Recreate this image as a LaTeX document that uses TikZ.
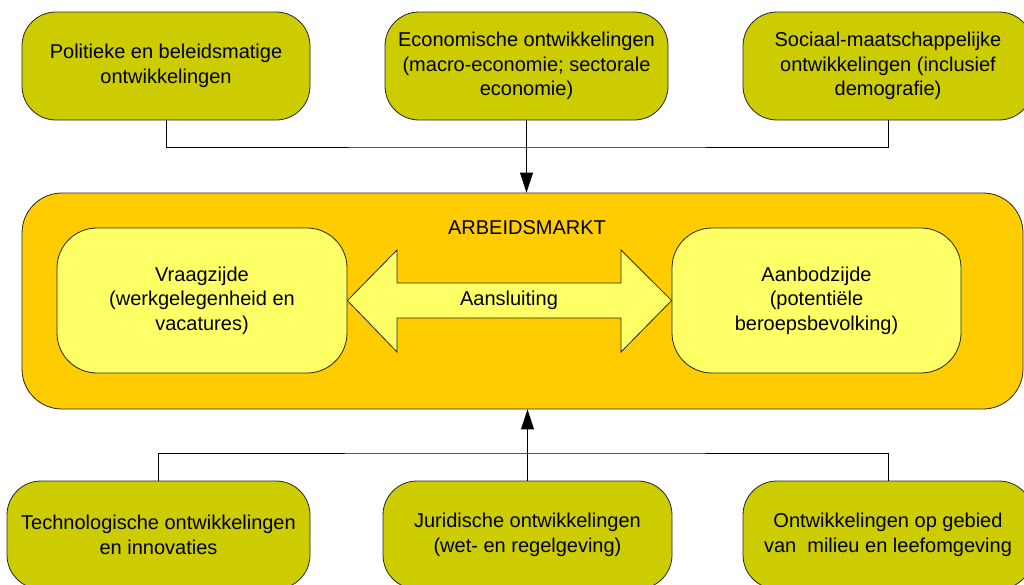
\documentclass[tikz,border=0pt]{standalone}
\usepackage{fontspec}
\setmainfont{Liberation Sans}
\usetikzlibrary{arrows.meta}
\definecolor{olivebox}{HTML}{CCCC00}
\definecolor{marktbox}{HTML}{FFCC00}
\definecolor{zijdebox}{HTML}{FFFF66}
\tikzset{
  base/.style={draw=black!85, line width=0.8pt, inner sep=0pt, align=center,
    font=\fontsize{20}{24.5}\selectfont, text=black},
  factor/.style={base, fill=olivebox, rounded corners=34pt, minimum height=108pt},
  markt/.style={base, fill=marktbox, rounded corners=40pt, minimum width=1001pt, minimum height=216pt},
  zijde/.style={base, fill=zijdebox, rounded corners=40pt, minimum height=145pt},
  conn/.style={draw=black, line width=0.9pt},
  pijl/.style={conn, -{Triangle[length=20pt,width=13pt]}}
}
\begin{document}
\begin{tikzpicture}[x=1pt,y=-1pt]
\useasboundingbox (0,0) rectangle (1024,584);
\clip (0,0) rectangle (1024,584);
% main labour market box
\node[markt] (main) at (522.5,301) {};
\node[font=\fontsize{20}{24.5}\selectfont] (titel) at (527,228) {ARBEIDSMARKT};
\node[zijde, minimum width=290pt] (vraag) at (202,300.5) {Vraagzijde\\(werkgelegenheid en\\vacatures)};
\node[zijde, minimum width=289pt] (aanbod) at (816.5,300.5) {Aanbodzijde\\(potentiële\\beroepsbevolking)};
% double arrow
\draw[draw=black!85, line width=0.8pt, fill=zijdebox]
  (vraag.east) -- (397,250) -- (397,283) -- (621,283) -- (621,250) -- (aanbod.west)
  -- (621,352) -- (621,318) -- (397,318) -- (397,352) -- cycle;
\node[font=\fontsize{20}{24.5}\selectfont] (aansl) at (509,300) {Aansluiting};
% top factors
\node[factor, minimum width=288pt] (t1) at (166,66) {Politieke en beleidsmatige\\ontwikkelingen};
\node[factor, minimum width=283pt] (t2) at (526.5,66) {Economische ontwikkelingen\\(macro-economie; sectorale\\economie)};
\node[factor, minimum width=290pt] (t3) at (888,66) {Sociaal-maatschappelijke\\ontwikkelingen (inclusief\\demografie)};
% bottom factors
\node[factor, minimum width=303pt] (b1) at (158.5,535) {Technologische ontwikkelingen\\en innovaties};
\node[factor, minimum width=289pt] (b2) at (527.5,535) {Juridische ontwikkelingen\\(wet- en regelgeving)};
\node[factor, minimum width=290pt] (b3) at (888,535) {Ontwikkelingen op gebied\\van\ \ milieu en leefomgeving};
% connectors
\coordinate (jt) at (527,147);
\coordinate (jb) at (527,453);
\draw[conn] (t1.south) |- (jt) -| (t3.south);
\draw[pijl] (t2.south) -- (t2.south |- main.north);
\draw[conn] (b1.north) |- (jb) -| (b3.north);
\draw[pijl] (b2.north) -- (b2.north |- main.south);
\end{tikzpicture}
\end{document}
